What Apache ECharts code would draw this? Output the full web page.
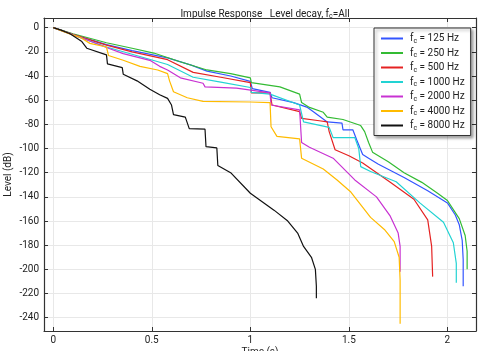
<!DOCTYPE html>
<html>
<head>
    <meta charset="UTF-8">
    <title>Impulse Response</title>
    <script src="https://cdn.jsdelivr.net/npm/echarts@6/dist/echarts.min.js"></script>
    <style>
        html, body { margin: 0; padding: 0; background: #fff; }
        #chart { width: 483px; height: 351px; }
    </style>
</head>
<body>
<div id="chart"></div>
<script>
    // 频带名称 (Hz)
    var bands = ['125', '250', '500', '1000', '2000', '4000', '8000'];
    var colors = ['#3355ff', '#33bb33', '#e52222', '#22d3d3', '#c832d2', '#ffbb00', '#111111'];

    var xTicks = [0, 0.5, 1, 1.5, 2];
    var yTicks = [0, -20, -40, -60, -80, -100, -120, -140, -160, -180, -200, -220, -240];

    // 每条曲线: 时间 (s) / 电平 (dB)
    var t125 = [0, 0.1, 0.27, 0.4, 0.58, 0.7, 0.78, 0.9, 1.0, 1.01, 1.1, 1.11, 1.22, 1.29, 1.32, 1.39, 1.465, 1.47, 1.52, 1.54, 1.57, 1.6, 1.65, 1.78, 1.9, 2.0, 2.04, 2.06, 2.075, 2.08, 2.08];
    var l125 = [0, -5.5, -14, -19, -25, -31, -36, -40, -44.5, -50.5, -53.5, -58, -62, -66, -69.5, -78, -79, -84.5, -84.5, -93, -105, -108, -113, -124, -135, -145, -155, -163, -176, -192, -214];

    var t250 = [0, 0.1, 0.27, 0.4, 0.51, 0.64, 0.78, 0.9, 1.0, 1.005, 1.15, 1.25, 1.26, 1.3, 1.37, 1.39, 1.47, 1.56, 1.58, 1.6, 1.62, 1.7, 1.78, 1.87, 1.95, 2.0, 2.06, 2.09, 2.1, 2.1];
    var l250 = [0, -5, -12.5, -17, -21, -28, -35, -38, -41.5, -45.5, -49, -55, -62, -66, -70, -74, -76, -81, -86, -95, -103, -111, -120, -128, -137, -143, -158, -172, -185, -200];

    var t500 = [0, 0.1, 0.27, 0.4, 0.58, 0.71, 0.85, 1.0, 1.005, 1.1, 1.11, 1.25, 1.26, 1.35, 1.39, 1.4, 1.43, 1.5, 1.57, 1.71, 1.83, 1.9, 1.92, 1.925];
    var l500 = [0, -5.5, -14.5, -20, -26.5, -37, -41, -45.5, -54, -54, -64, -69.5, -75, -77, -78, -86, -101, -106, -112, -128, -142, -159, -181, -206];

    var t1000 = [0, 0.1, 0.27, 0.4, 0.58, 0.71, 0.85, 1.0, 1.005, 1.1, 1.25, 1.27, 1.4, 1.42, 1.53, 1.55, 1.56, 1.61, 1.74, 1.86, 1.98, 2.03, 2.045, 2.045];
    var l1000 = [0, -6, -16, -22, -30.5, -41, -45, -49.5, -53.5, -55, -64, -78, -82.5, -91, -91, -100, -115, -119, -127.5, -145, -161, -178, -195, -211];

    var t2000 = [0, 0.1, 0.186, 0.28, 0.355, 0.49, 0.54, 0.58, 0.645, 0.76, 0.77, 0.93, 1.1, 1.105, 1.25, 1.26, 1.3, 1.42, 1.53, 1.64, 1.71, 1.75, 1.76, 1.76];
    var l2000 = [0, -6, -11, -17, -21.5, -27, -32, -35, -41.5, -46, -49, -50, -54, -64, -68, -95, -99, -108, -126, -140, -156, -170, -181, -202];

    var t4000 = [0, 0.08, 0.136, 0.186, 0.27, 0.28, 0.355, 0.44, 0.53, 0.58, 0.59, 0.61, 0.68, 0.76, 1.0, 1.1, 1.105, 1.135, 1.25, 1.26, 1.37, 1.44, 1.51, 1.61, 1.68, 1.73, 1.755, 1.76, 1.76];
    var l4000 = [0, -5, -8, -13, -16, -23, -27, -32, -35, -38, -44, -53, -58, -61, -61.5, -62, -82, -90, -92, -108, -117, -126, -136, -157, -167, -177, -190, -209, -245];

    var t8000 = [0, 0.04, 0.085, 0.145, 0.17, 0.27, 0.275, 0.35, 0.355, 0.425, 0.49, 0.54, 0.58, 0.6, 0.61, 0.67, 0.69, 0.77, 0.775, 0.83, 0.835, 0.9, 1.0, 1.06, 1.12, 1.19, 1.24, 1.27, 1.31, 1.33, 1.335, 1.335];
    var l8000 = [0, -2, -5, -11.5, -17, -22.5, -30, -33, -38.5, -44, -51, -55.5, -58.5, -64, -72, -74, -83.5, -84, -98.5, -99.5, -114, -120, -137, -144, -151, -160, -170, -181, -190, -200, -214, -224];

    var times = [t125, t250, t500, t1000, t2000, t4000, t8000];
    var levels = [l125, l250, l500, l1000, l2000, l4000, l8000];

    function zip(a, b) {
        var out = [];
        for (var i = 0; i < a.length; i++) out.push([a[i], b[i]]);
        return out;
    }

    var series = bands.map(function (b, i) {
        return {
            name: b,
            type: 'line',
            symbol: 'none',
            data: zip(times[i], levels[i]),
            lineStyle: { color: colors[i], width: 1.2 },
            itemStyle: { color: colors[i] },
            animation: false
        };
    });

    var font = 'Roboto, "Noto Sans", sans-serif';
    var tickStyle = { show: true, inside: true, length: 4, lineStyle: { color: '#333' } };

    var myChart = echarts.init(document.getElementById('chart'));
    var option = {
        animation: false,
        title: {
            text: 'Impulse Response   Level decay, f{s|c}=All',
            left: 260,
            textAlign: 'center',
            top: 3,
            textStyle: {
                fontFamily: font, fontSize: 10, fontWeight: 'normal', color: '#222',
                rich: { s: { fontSize: 7, padding: [5, 0, 0, 0], fontFamily: font, color: '#222' } }
            }
        },
        legend: {
            orient: 'vertical',
            left: 374,
            top: 28,
            width: 96,
            padding: [5, 6, 4, 7],
            itemGap: 3,
            itemWidth: 22,
            itemHeight: 2,
            icon: 'rect',
            backgroundColor: '#fff',
            borderColor: '#333',
            borderWidth: 1,
            shadowColor: 'rgba(0,0,0,0.35)',
            shadowBlur: 3,
            shadowOffsetX: 2,
            shadowOffsetY: 2,
            formatter: function (name) { return 'f{s|c} = ' + name + ' Hz'; },
            textStyle: {
                fontFamily: font, fontSize: 10, color: '#222', lineHeight: 11, padding: [0, 0, 0, 2],
                rich: { s: { fontSize: 7, padding: [5, 0, 0, 0], fontFamily: font, color: '#222' } }
            },
            data: bands
        },
        grid: { left: 44, right: 7, top: 18, bottom: 20, show: false, outerBoundsMode: 'none', containLabel: false },
        xAxis: [{
            type: 'value',
            min: -0.047,
            max: 2.145,
            name: 'Time (s)',
            nameLocation: 'middle',
            nameGap: 16,
            nameMoveOverlap: false,
            nameTextStyle: { fontFamily: font, fontSize: 10, color: '#222' },
            axisLine: { show: true, onZero: false, lineStyle: { color: '#333', width: 1.2 } },
            axisTick: Object.assign({ customValues: xTicks }, tickStyle),
            axisLabel: { customValues: xTicks, fontFamily: font, fontSize: 10, color: '#222', margin: 4 },
            splitLine: { show: true, lineStyle: { color: '#e8e8e8' } }
        }, {
            type: 'value',
            position: 'top',
            min: -0.047,
            max: 2.145,
            axisLine: { show: true, onZero: false, lineStyle: { color: '#333', width: 1.2 } },
            axisTick: Object.assign({ customValues: xTicks }, tickStyle),
            axisLabel: { show: false },
            splitLine: { show: false }
        }],
        yAxis: [{
            type: 'value',
            min: -251,
            max: 8,
            name: 'Level (dB)',
            nameLocation: 'middle',
            nameGap: 31,
            nameMoveOverlap: false,
            nameTextStyle: { fontFamily: font, fontSize: 10, color: '#222' },
            axisLine: { show: true, onZero: false, lineStyle: { color: '#333', width: 1.2 } },
            axisTick: Object.assign({ customValues: yTicks }, tickStyle),
            axisLabel: { customValues: yTicks, fontFamily: font, fontSize: 10, color: '#222', margin: 5 },
            splitLine: { show: true, lineStyle: { color: '#e8e8e8' } }
        }, {
            type: 'value',
            position: 'right',
            min: -251,
            max: 8,
            axisLine: { show: true, onZero: false, lineStyle: { color: '#333', width: 1.2 } },
            axisTick: Object.assign({ customValues: yTicks }, tickStyle),
            axisLabel: { show: false },
            splitLine: { show: false }
        }],
        series: series
    };
    myChart.setOption(option);
</script>
</body>
</html>
